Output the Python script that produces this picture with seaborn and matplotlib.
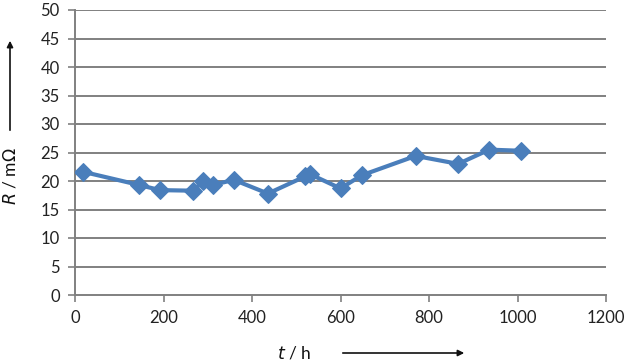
import matplotlib
matplotlib.use("Agg")
import matplotlib.pyplot as plt
import seaborn as sns
import pandas as pd

# data
t_hours = [19, 145, 192, 267, 290, 311, 359, 436, 520, 531, 600, 648, 770, 866, 936, 1009]
r_mohm = [21.6, 19.3, 18.4, 18.3, 20.0, 19.3, 20.2, 17.8, 20.8, 21.2, 18.7, 21.0, 24.4, 23.0, 25.5, 25.3]
x_ticks = [0, 200, 400, 600, 800, 1000, 1200]
y_ticks = [0, 5, 10, 15, 20, 25, 30, 35, 40, 45, 50]

sns.set_style("white")
plt.rcParams['font.family'] = ['Lato', 'DejaVu Sans']

df = pd.DataFrame({"t": t_hours, "R": r_mohm})

fig = plt.figure(figsize=(6.26, 3.62), dpi=100)
ax = fig.add_axes([75/626, 1 - 295/362, (606 - 75)/626, (295 - 10)/362])

grid_c = "#808080"
blue = "#4A7EBB"

sns.lineplot(data=df, x="t", y="R", ax=ax, color=blue, linewidth=3.0,
             marker="D", markersize=9, markeredgecolor=blue,
             markerfacecolor=blue, zorder=3)

ax.set_xlim(0, 1200)
ax.set_ylim(0, 50)
ax.set_xticks(x_ticks)
ax.set_yticks(y_ticks)
ax.set_xticklabels([str(v) for v in x_ticks])
ax.set_yticklabels([str(v) for v in y_ticks])

for y in y_ticks[1:]:
    ax.axhline(y, color=grid_c, linewidth=1.4, zorder=1)

for side in ["top", "right"]:
    ax.spines[side].set_visible(False)
for side in ["left", "bottom"]:
    ax.spines[side].set_color(grid_c)
    ax.spines[side].set_linewidth(1.4)

ax.tick_params(axis="both", which="major", length=5, width=1.2, color=grid_c,
               labelsize=12, labelcolor="#222222", pad=6, direction="out",
               left=True, bottom=True)
ax.set_xlabel("")
ax.set_ylabel("")

# axis labels with arrows (figure coordinates)
fig.text(294/626, 1 - 353/362, r"$t$ / h", ha="center", va="center",
         fontsize=12.5, color="#111111")
fig.text(10/626, 1 - 176/362, r"$R$ / m$\Omega$", ha="center", va="center",
         rotation=90, fontsize=12.5, color="#111111")
fig.patches.append(matplotlib.patches.FancyArrowPatch(
    (340/626, 1 - 353/362), (467/626, 1 - 353/362), transform=fig.transFigure,
    arrowstyle="-|>", mutation_scale=9, color="#111111", linewidth=1.2))
fig.patches.append(matplotlib.patches.FancyArrowPatch(
    (10/626, 1 - 133/362), (10/626, 1 - 38/362), transform=fig.transFigure,
    arrowstyle="-|>", mutation_scale=9, color="#111111", linewidth=1.2))

fig.savefig("out.png", dpi=100)
